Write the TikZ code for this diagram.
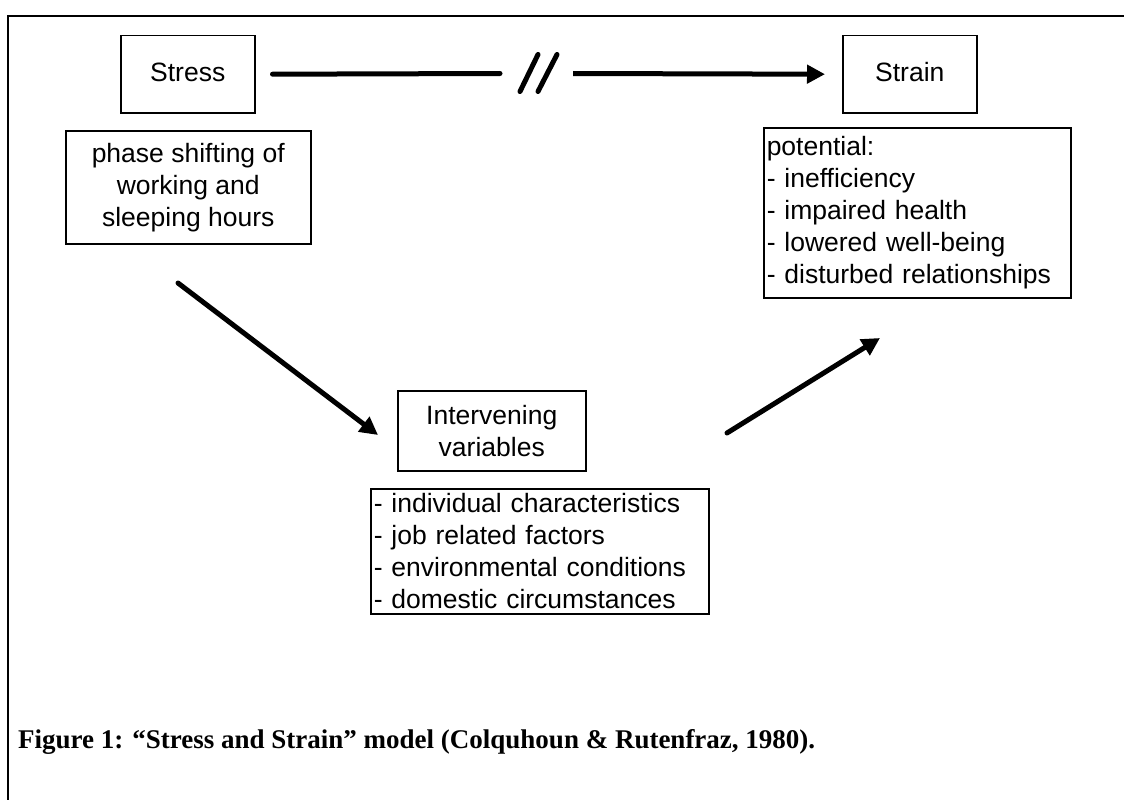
\documentclass[tikz,border=0pt]{standalone}
\usepackage{fontspec}
\setmainfont{Liberation Sans}
\newfontfamily\capfont{Liberation Serif}
\usetikzlibrary{arrows.meta, positioning}

\begin{document}
\begin{tikzpicture}[x=1pt, y=-1pt,
    box/.style={draw, line width=1.5pt, anchor=north west, inner sep=3pt,
                font=\fontsize{26.5}{32}\selectfont},
    heavy/.style={line width=5pt, line cap=round},
    tip/.style={-{Triangle[length=18pt, width=18pt]}}
]
    \useasboundingbox (0,0) rectangle (1124,800);
    % frame
    \draw[line width=2.5pt] (8,800) |- (1124,16);

    \node[box, minimum width=134, minimum height=77, text depth=5pt] (stress) at (120,35) {Stress};
    \node[box, minimum width=134, minimum height=77, text depth=5pt] (strain) at (842,35) {Strain};

    \node[box, minimum width=245, minimum height=113, align=center] (phase) at (65,130) {
        phase shifting of\\ working and\\ sleeping hours
    };

    \node[box, text width=301, minimum height=170, align=left] (potential) at (763,127) {
        potential:\\ - inefficiency\\ - impaired health\\ - lowered well-being\\ - disturbed relationships
    };

    \node[box, minimum width=188, minimum height=80, align=center] (interv) at (397,390) {
        Intervening\\ variables
    };

    \node[box, text width=332, minimum height=125, align=left] (factors) at (370,488) {
        - individual characteristics\\ - job related factors\\ - environmental conditions\\ - domestic circumstances
    };

    % broken arrow Stress -> Strain
    \coordinate (brk) at (538,73.5);
    \draw[heavy, shorten <=17pt] (stress.east) -- ([xshift=-38]brk);
    \draw[heavy, tip, line cap=butt, shorten >=17pt] ([xshift=35]brk) -- (strain.west);
    \draw[heavy] ([shift={(-18,18)}]brk) -- ++(18,-37);
    \draw[heavy] ([shift={(0,18)}]brk) -- ++(19,-37);

    % diagonal arrows
    \coordinate (d1) at (178,283);
    \coordinate (d2) at (378,435);
    \coordinate (u1) at (727,433);
    \coordinate (u2) at (880,338);
    \draw[heavy, tip] (d1) -- (d2);
    \draw[heavy, tip] (u1) -- (u2);

    \node[anchor=base west, inner sep=0pt, font=\capfont\bfseries\fontsize{27}{30}\selectfont] (caption) at (18,748)
        {Figure 1: “Stress and Strain” model (Colquhoun \& Rutenfraz, 1980).};
\end{tikzpicture}
\end{document}
